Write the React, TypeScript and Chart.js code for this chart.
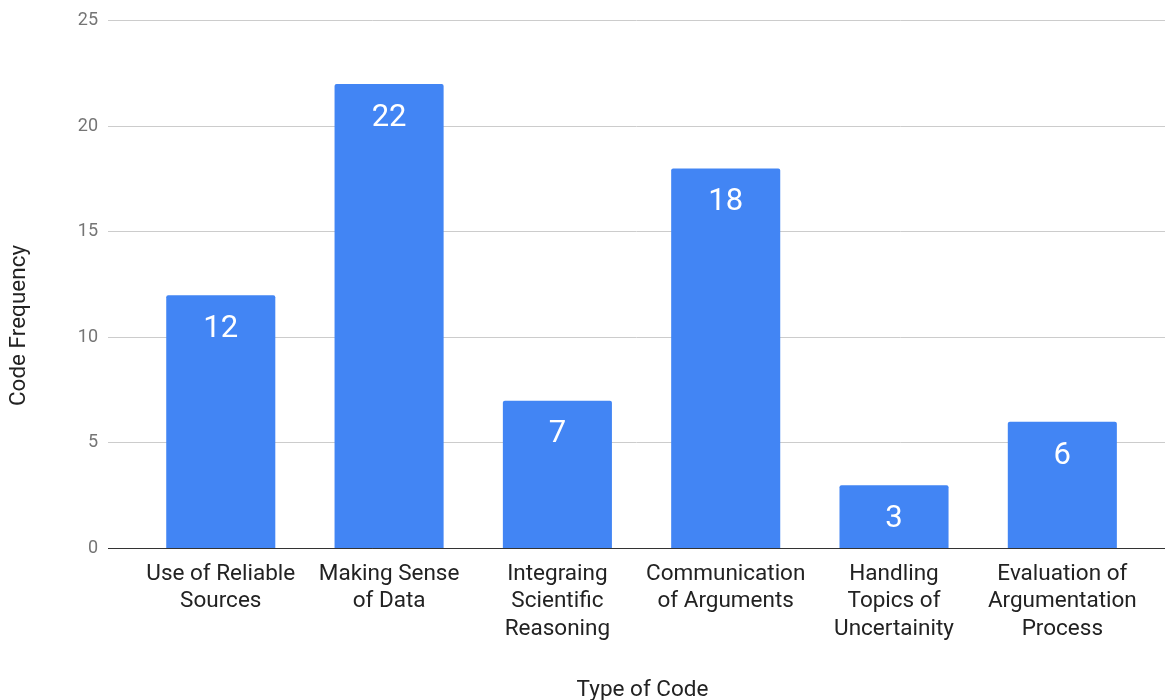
import React, { useEffect, useRef } from "react";
import { Chart, registerables } from "chart.js";

Chart.register(...registerables);

const categories: string[][] = [
  ["Use of Reliable", "Sources"],
  ["Making Sense", "of Data"],
  ["Integraing", "Scientific", "Reasoning"],
  ["Communication", "of Arguments"],
  ["Handling", "Topics of", "Uncertainity"],
  ["Evaluation of", "Argumentation", "Process"],
];
const codeFrequency: number[] = [12, 22, 7, 18, 3, 6];
const yTicks: number[] = [0, 5, 10, 15, 20, 25];
const xTitle = "Type of Code";
const yTitle = "Code Frequency";

const FONT = "Roboto, 'Noto Sans', sans-serif";

export default function App() {
  const ref = useRef<HTMLCanvasElement | null>(null);

  useEffect(() => {
    if (!ref.current) return;

    const valueLabels = {
      id: "valueLabels",
      afterDatasetsDraw(chart: any) {
        const ctx = chart.ctx;
        const meta = chart.getDatasetMeta(0);
        ctx.save();
        ctx.fillStyle = "#ffffff";
        ctx.font = `31px ${FONT}`;
        ctx.textAlign = "center";
        ctx.textBaseline = "middle";
        meta.data.forEach((el: any, i: number) => {
          ctx.fillText(String(codeFrequency[i]), el.x, el.y + 34);
        });
        ctx.restore();
      },
    };

    const axisTitles = {
      id: "axisTitles",
      afterDraw(chart: any) {
        const ctx = chart.ctx;
        const area = chart.chartArea;
        ctx.save();
        ctx.fillStyle = "#222222";
        ctx.font = `22.5px ${FONT}`;
        ctx.textAlign = "center";
        ctx.textBaseline = "middle";
        ctx.fillText(xTitle, (area.left + area.right) / 2 + 6, chart.height - 10);
        ctx.translate(19, chart.height * 0.465);
        ctx.rotate(-Math.PI / 2);
        ctx.fillText(yTitle, 0, 0);
        ctx.restore();
      },
    };

    const chart = new Chart(ref.current, {
      type: "bar",
      data: {
        datasets: [
          {
            data: codeFrequency.map((v, i) => ({ x: i, y: v })),
            backgroundColor: "#4285F4",
            borderRadius: 2,
            borderSkipped: "start",
            barPercentage: 0.648,
            categoryPercentage: 1,
          },
        ],
      },
      options: {
        animation: false,
        responsive: false,
        maintainAspectRatio: false,
        layout: { padding: { top: 19, right: 0, bottom: 0, left: 0 } },
        plugins: {
          legend: { display: false },
          tooltip: { enabled: false },
        },
        scales: {
          x: {
            type: "linear",
            offset: false,
            min: -0.67,
            max: 5.61,
            afterBuildTicks: (scale: any) => {
              scale.ticks = categories.map((_, i) => ({ value: i }));
            },
            afterFit: (scale: any) => {
              scale.height = 151.5;
            },
            grid: { display: false, drawTicks: false },
            border: { display: true, color: "#333333", width: 1 },
            ticks: {
              autoSkip: false,
              maxRotation: 0,
              minRotation: 0,
              padding: 12,
              color: "#222222",
              font: { family: FONT, size: 22.5, lineHeight: 1.22 },
              callback: (v: any) => categories[Math.round(Number(v))] ?? "",
            },
          },
          y: {
            min: 0,
            max: 25,
            afterBuildTicks: (scale: any) => {
              scale.ticks = yTicks.map((v) => ({ value: v }));
            },
            afterFit: (scale: any) => {
              scale.width = 108;
            },
            grid: {
              drawTicks: false,
              color: (c: any) => (c.tick && c.tick.value === 0 ? "#333333" : "#cccccc"),
              lineWidth: 1,
            },
            border: { display: false },
            ticks: {
              padding: 10,
              color: "#757575",
              font: { family: FONT, size: 18 },
            },
          },
        },
      },
      plugins: [valueLabels, axisTitles],
    } as any);

    return () => chart.destroy();
  }, []);

  return (
    <div style={{ position: "fixed", left: 0, top: 0, width: 1165, height: 700, background: "#fff" }}>
      <canvas ref={ref} width={1165} height={700} style={{ display: "block" }} />
    </div>
  );
}
